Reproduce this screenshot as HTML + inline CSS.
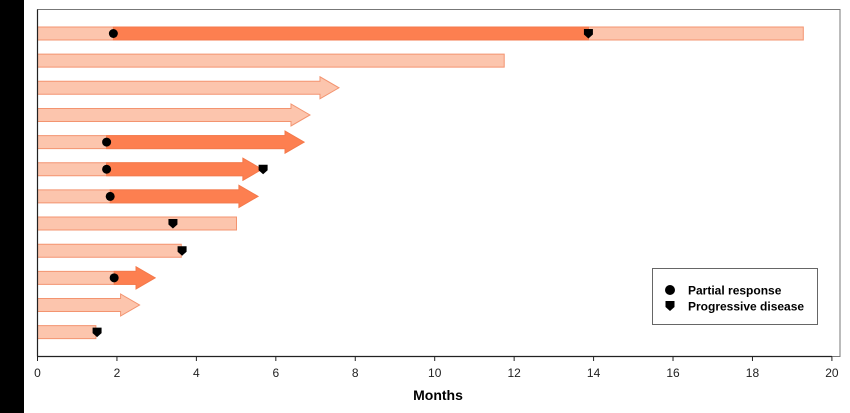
<!DOCTYPE html>
<html><head><meta charset="utf-8"><style>
html,body{margin:0;padding:0;background:#fff;}
svg{display:block;font-family:"Liberation Sans",sans-serif;}
</style></head><body>
<svg id="chart" width="850" height="413" viewBox="0 0 850 413">
<rect x="0" y="0" width="24" height="413" fill="#000"/>
<rect x="37.5" y="9.5" width="802.5" height="347" fill="none" stroke="#777" stroke-width="1"/>
<g id="bars"></g>
<g id="axis"></g>
<g>
<rect x="652.5" y="268.5" width="165" height="56" fill="#fff" stroke="#666"/>
<circle cx="670" cy="290" r="5" fill="#000"/>
<text x="688" y="294.5" font-size="12" font-weight="bold">Partial response</text>
<path d="M665.5,301 L674.5,301 L674.5,307 L670,311 L665.5,307 Z" fill="#000"/>
<text x="688" y="310.5" font-size="12" font-weight="bold">Progressive disease</text>
</g>
<text x="438" y="400" font-size="14" font-weight="bold" text-anchor="middle">Months</text>
</svg>
<script>
const patients = ["P1","P2","P3","P4","P5","P6","P7","P8","P9","P10","P11","P12"];
const durations = [19.28, 11.75, 7.59, 6.86, 6.71, 5.65, 5.55, 5.01, 3.62, 2.96, 2.57, 1.47];
const ongoing = [false, false, true, true, true, true, true, false, false, true, true, false];
const responseStart = [1.91, null, null, null, 1.74, 1.74, 1.83, null, null, 1.93, null, null];
const progression = [13.87, null, null, null, null, 5.68, null, 3.41, 3.64, null, null, 1.5];
const xTicks = [0,2,4,6,8,10,12,14,16,18,20];

const NS = "http://www.w3.org/2000/svg";
const x = v => 37.5 + v * 39.72;
const y = i => 33.5 + i * 27.15;
const BH = 13, HH = 22, HL = 19;
const LF = "#fcc5ad", LS = "#f39470", DF = "#fd7f50", DS = "#f47a4c";
const bars = document.getElementById("bars");
const axis = document.getElementById("axis");
function mk(tag, attrs, parent){ const e=document.createElementNS(NS,tag); for(const k in attrs) e.setAttribute(k,attrs[k]); parent.appendChild(e); return e; }
function shape(x0, x1, cy, arrow){
  const t=cy-BH/2, b=cy+BH/2;
  if(!arrow) return `M${x0},${t} L${x1},${t} L${x1},${b} L${x0},${b} Z`;
  const n=x1-HL;
  return `M${x0},${t} L${n},${t} L${n},${cy-HH/2} L${x1},${cy} L${n},${cy+HH/2} L${n},${b} L${x0},${b} Z`;
}
patients.forEach((p,i)=>{
  const cy=y(i), end=x(durations[i]);
  const g=mk("g",{},bars);
  
  
  const lb=mk("path",{d:shape(x(0),end,cy,ongoing[i]),fill:LF,stroke:LS,"stroke-width":1},g);
  
  
  if(responseStart[i]!==null){
    const s=x(responseStart[i]);
    let dEnd=end, arr=ongoing[i];
    if(progression[i]!==null && progression[i]<durations[i]-0.2){ dEnd=x(progression[i]); arr=false; }
    const db=mk("path",{d:shape(s,dEnd,cy,arr),fill:DF,stroke:DS,"stroke-width":1},g);
    
    
    const c=mk("circle",{cx:s,cy:cy,r:4.5,fill:"#000"},g);
    
    
  }
  if(progression[i]!==null){
    const px=x(progression[i]);
    const m=mk("path",{d:`M${px-4.5},${cy-4.5} L${px+4.5},${cy-4.5} L${px+4.5},${cy+1} L${px},${cy+5} L${px-4.5},${cy+1} Z`,fill:"#000"},g);
    
    
  }
});
const yl=mk("line",{x1:37.5,y1:9.5,x2:37.5,y2:356.5,stroke:"#222","stroke-width":1.2},axis);


const xl=mk("line",{x1:37.5,y1:356.5,x2:x(20),y2:356.5,stroke:"#222","stroke-width":1.2},axis);


xTicks.forEach(t=>{
  const tk=mk("line",{x1:x(t),y1:356.5,x2:x(t),y2:361,stroke:"#222","stroke-width":1},axis);
  
  
  const tx=mk("text",{x:x(t),y:377,"font-size":12,"text-anchor":"middle",fill:"#222"},axis);
  tx.textContent=t;
  
  
});
</script>
</body></html>
